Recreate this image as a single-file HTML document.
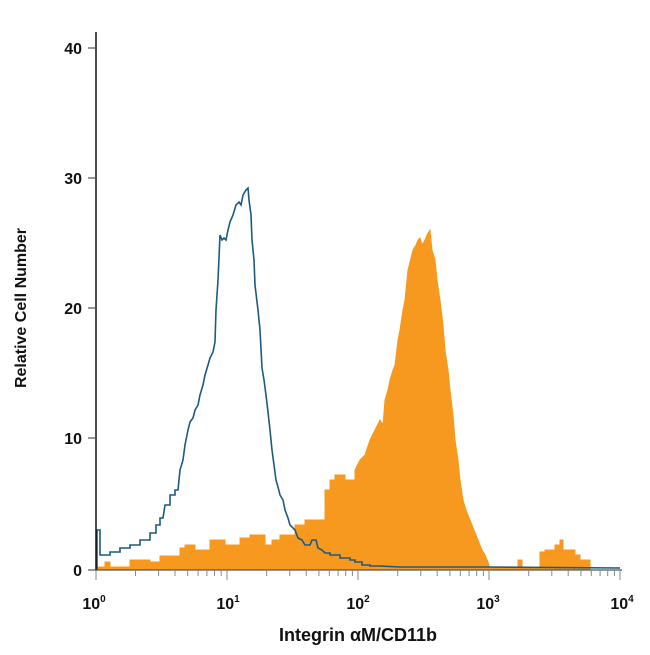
<!DOCTYPE html>
<html><head><style>
html,body{margin:0;padding:0;background:#fff;}
svg text{font-family:"Liberation Sans",sans-serif;font-weight:bold;fill:#111;}
</style></head><body>
<svg width="650" height="650" viewBox="0 0 650 650" xmlns="http://www.w3.org/2000/svg">
<rect width="650" height="650" fill="#fff"/>
<path fill="#f7991f" stroke="#f7991f" stroke-width="1" d="M98,570 L98,567 L105,567 L105,562 L110,562 L110,567 L130,567 L130,560 L150,560 L150,562 L160,562 L160,556 L180,556 L180,548 L185,548 L185,545 L195,545 L195,550 L210,550 L210,540 L225,540 L225,545 L240,545 L240,538 L250,538 L250,535 L265,535 L265,545 L272,545 L272,540 L280,540 L280,535 L295,535 L295,525 L305,525 L305,520 L325,520 L325,490 L330,490 L330,480 L335,480 L335,475 L345,475 L345,480 L355,480 L355,470 L360,460 L365,455 L370,440 L375,430 L380,420 L383,425 L385,400 L388,390 L390,380 L393,370 L395,365 L398,340 L400,330 L403,310 L405,300 L407,280 L408,270 L410,262 L413,250 L416,245 L418,240 L420,238 L422,245 L425,240 L427,235 L430,230 L432,250 L435,260 L437,280 L440,300 L443,325 L445,350 L448,370 L450,390 L453,415 L455,440 L458,460 L460,480 L463,500 L466,510 L470,520 L474,530 L478,540 L482,550 L485,555 L488,562 L490,568 L518,568 L518,560 L522,560 L522,568 L540,568 L540,552 L545,552 L545,550 L555,550 L555,545 L560,545 L560,540 L563,540 L563,550 L575,550 L575,555 L580,555 L580,560 L590,560 L590,570 Z"/>
<path fill="none" stroke="#1d5a7e" stroke-width="1.6" d="M97,570 L97,530 L100,530 L100,555 L110,555 L110,552 L120,552 L120,548 L130,548 L130,545 L140,545 L140,540 L150,540 L150,533 L156,533 L156,525 L160,525 L160,518 L163,518 L165,505 L170,505 L170,495 L175,495 L175,490 L178,490 L180,470 L183,460 L185,445 L188,430 L190,422 L193,418 L195,410 L198,405 L200,395 L203,385 L205,375 L208,365 L210,358 L213,352 L215,342 L216,310 L218,280 L220,235 L222,240 L224,238 L226,240 L228,230 L230,222 L233,215 L236,205 L239,202 L241,205 L243,195 L246,190 L248,188 L249,200 L251,215 L252,240 L254,260 L255,285 L258,310 L260,330 L262,368 L264,380 L266,395 L268,412 L270,430 L272,450 L274,465 L276,480 L278,487 L280,495 L283,500 L285,510 L288,518 L290,525 L295,530 L298,538 L302,540 L305,545 L310,545 L312,540 L316,540 L318,548 L322,550 L325,553 L330,553 L330,555 L340,555 L340,558 L350,558 L350,560 L355,560 L355,562 L362,562 L362,565 L370,565 L370,566 L380,566 L400,567 L490,567 L620,568"/>
<line x1="96" y1="32" x2="96" y2="571" stroke="#111" stroke-width="1.5"/>
<line x1="96" y1="570" x2="622" y2="570" stroke="#555" stroke-width="1.2"/>
<g stroke="#555" stroke-width="1.2">
<line x1="88" y1="48" x2="96" y2="48"/><line x1="88" y1="178" x2="96" y2="178"/><line x1="88" y1="308" x2="96" y2="308"/><line x1="88" y1="438" x2="96" y2="438"/><line x1="88" y1="570" x2="96" y2="570"/>
</g>
<g stroke="#888" stroke-width="1">
<path d="M96,570v10 M135.5,570v6 M158.6,570v6 M175,570v6 M187.7,570v6 M198.1,570v6 M206.9,570v6 M214.5,570v6 M221.2,570v6 M227,570v10
M266.7,570v6 M289.8,570v6 M306.2,570v6 M318.9,570v6 M329.3,570v6 M338.1,570v6 M345.7,570v6 M352.4,570v6 M358,570v10
M397.7,570v6 M420.8,570v6 M437.2,570v6 M449.9,570v6 M460.3,570v6 M469.1,570v6 M476.7,570v6 M483.4,570v6 M489,570v10
M528.7,570v6 M551.8,570v6 M568.2,570v6 M580.9,570v6 M591.3,570v6 M600.1,570v6 M607.7,570v6 M614.4,570v6 M620,570v10"/>
</g>
<g font-size="16" text-anchor="end">
<text x="82" y="54">40</text><text x="82" y="184">30</text><text x="82" y="314">20</text><text x="82" y="444">10</text><text x="82" y="576">0</text>
</g>
<g font-size="16" text-anchor="middle">
<text x="94" y="609">10<tspan font-size="10" dy="-7">0</tspan></text>
<text x="228" y="609">10<tspan font-size="10" dy="-7">1</tspan></text>
<text x="358" y="609">10<tspan font-size="10" dy="-7">2</tspan></text>
<text x="488" y="609">10<tspan font-size="10" dy="-7">3</tspan></text>
<text x="622" y="609">10<tspan font-size="10" dy="-7">4</tspan></text>
</g>
<text x="358" y="641" font-size="18" text-anchor="middle">Integrin αM/CD11b</text>
<text transform="translate(26,308) rotate(-90)" font-size="16" text-anchor="middle">Relative Cell Number</text>
</svg>
</body></html>
